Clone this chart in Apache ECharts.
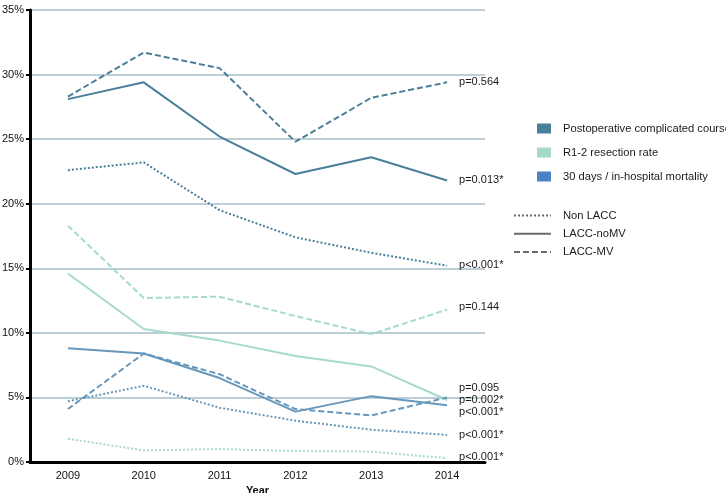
<!DOCTYPE html>
<html>
<head>
<meta charset="utf-8">
<script src="https://cdn.jsdelivr.net/npm/echarts@6/dist/echarts.min.js"></script>
<style>
  html, body { margin: 0; padding: 0; background: #fff; }
  #chart { width: 726px; height: 493px; }
</style>
</head>
<body>
<div id="chart"></div>
<script>
// years on the x axis
const years = ['2009', '2010', '2011', '2012', '2013', '2014']

// postoperative complicated course (%)
const postopNonLacc = [22.6, 23.2, 19.5, 17.4, 16.2, 15.2]
const postopNoMV = [28.1, 29.4, 25.2, 22.3, 23.6, 21.8]
const postopMV = [28.3, 31.7, 30.5, 24.8, 28.2, 29.4]

// R1-2 resection rate (%)
const r12NonLacc = [1.8, 0.9, 1.0, 0.85, 0.8, 0.3]
const r12NoMV = [14.6, 10.3, 9.4, 8.2, 7.4, 4.8]
const r12MV = [18.3, 12.7, 12.8, 11.3, 9.9, 11.8]

// 30 days / in-hospital mortality (%)
const mortNonLacc = [4.7, 5.9, 4.2, 3.2, 2.5, 2.1]
const mortNoMV = [8.8, 8.4, 6.5, 3.9, 5.1, 4.4]
const mortMV = [4.1, 8.4, 6.8, 4.1, 3.6, 5.0]

// p values written at the end of each line
const pPostop = ['p<0.001*', 'p=0.013*', 'p=0.564']
const pR12 = ['p<0.001*', 'p=0.095', 'p=0.144']
const pMort = ['p<0.001*', 'p<0.001*', 'p=0.002*']

const groupNames = ['Postoperative complicated course', 'R1-2 resection rate', '30 days / in-hospital mortality']
const styleNames = ['Non LACC', 'LACC-noMV', 'LACC-MV']

const cPostop = '#4a7f99'
const cR12 = '#a6dacb'
const cMort = '#6797bb'
const cMortLegend = '#4a83c3'

const dotted = [2, 2]
const dashed = [6, 3]

const font = 'Liberation Sans, Arial, sans-serif'

function line (name, data, color, type, pText, offY) {
  return {
    name: name,
    type: 'line',
    data: data,
    symbol: 'none',
    silent: true,
    lineStyle: { color: color, width: 2, type: type },
    endLabel: {
      show: true,
      formatter: pText,
      color: '#1a1a1a',
      fontSize: 11,
      fontFamily: font,
      offset: [4, offY]
    }
  }
}

const series = [
  line('postopNonLacc', postopNonLacc, cPostop, dotted, pPostop[0], -1),
  line('postopNoMV', postopNoMV, cPostop, 'solid', pPostop[1], 0),
  line('postopMV', postopMV, cPostop, dashed, pPostop[2], 0),
  line('r12NonLacc', r12NonLacc, cR12, dotted, pR12[0], -1),
  line('r12NoMV', r12NoMV, cR12, 'solid', pR12[1], -12),
  line('r12MV', r12MV, cR12, dashed, pR12[2], -3),
  line('mortNonLacc', mortNonLacc, cMort, dotted, pMort[0], 0),
  line('mortNoMV', mortNoMV, cMort, 'solid', pMort[1], 7),
  line('mortMV', mortMV, cMort, dashed, pMort[2], 3)
]

// empty series, only there to feed the two legends
const groupColors = [cPostop, cR12, cMortLegend]
groupNames.forEach((n, i) => {
  series.push({ name: n, type: 'line', data: [], itemStyle: { color: groupColors[i] } })
})
const styleTypes = [dotted, 'solid', dashed]
styleNames.forEach((n, i) => {
  series.push({
    name: n, type: 'line', data: [], symbol: 'none',
    itemStyle: { color: '#6b6b6b' },
    lineStyle: { color: '#6b6b6b', width: 2, type: styleTypes[i] }
  })
})

const option = {
  animation: false,
  backgroundColor: '#fff',
  grid: { left: 30, right: 241, top: 10, bottom: 31, outerBoundsMode: 'none', containLabel: false },
  legend: [
    {
      data: groupNames,
      orient: 'vertical',
      left: 537,
      top: 123,
      padding: 0,
      icon: 'rect',
      itemWidth: 14,
      itemHeight: 10,
      itemGap: 13,
      selectedMode: false,
      textStyle: { color: '#1a1a1a', fontSize: 11.2, fontFamily: font, padding: [0, 0, 0, 7] }
    },
    {
      data: styleNames,
      orient: 'vertical',
      left: 513,
      top: 210,
      padding: 0,
      itemWidth: 37,
      itemHeight: 14,
      itemGap: 7,
      selectedMode: false,
      itemStyle: { opacity: 0, color: 'rgba(0,0,0,0)', borderWidth: 0 },
      textStyle: { color: '#1a1a1a', fontSize: 11.2, fontFamily: font, padding: [0, 0, 0, 7] }
    }
  ],
  xAxis: {
    type: 'category',
    data: years,
    name: 'Year',
    nameLocation: 'middle',
    nameGap: 19,
    nameTextStyle: { color: '#111', fontSize: 11, fontWeight: 'bold', fontFamily: font },
    axisLine: { lineStyle: { color: '#000', width: 3 } },
    axisTick: { alignWithLabel: true, length: 4, lineStyle: { color: '#000', width: 2 } },
    axisLabel: { color: '#111', fontSize: 11, fontFamily: font, margin: 8 }
  },
  yAxis: {
    type: 'value',
    min: 0,
    max: 35,
    interval: 5,
    axisLine: { show: true, lineStyle: { color: '#000', width: 3 } },
    axisTick: { show: true, length: 4, lineStyle: { color: '#000', width: 2 } },
    axisLabel: { formatter: '{value}%', color: '#111', fontSize: 11, fontFamily: font, margin: 6 },
    splitLine: { lineStyle: { color: '#bccfd6', width: 2 } }
  },
  series: series
}

const chart = echarts.init(document.getElementById('chart'))
chart.setOption(option)
</script>
</body>
</html>
